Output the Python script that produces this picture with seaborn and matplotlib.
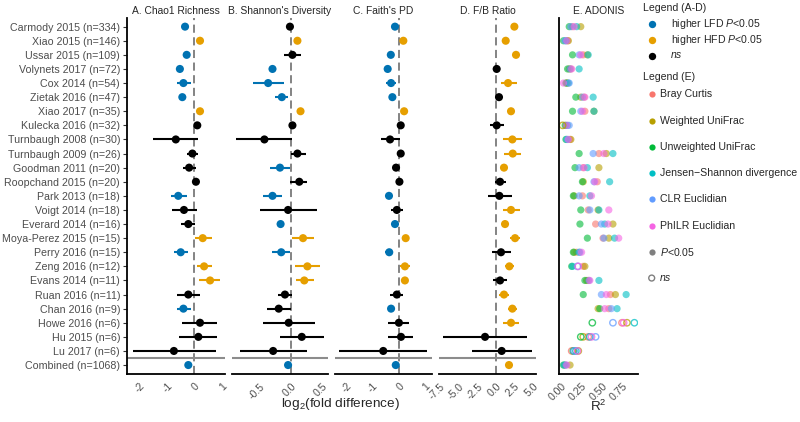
import numpy as np
import pandas as pd
import matplotlib
matplotlib.use("Agg")
import matplotlib.pyplot as plt
import seaborn as sns

studies = ["Carmody 2015 (n=334)", "Xiao 2015 (n=146)", "Ussar 2015 (n=109)", "Volynets 2017 (n=72)",
           "Cox 2014 (n=54)", "Zietak 2016 (n=47)", "Xiao 2017 (n=35)", "Kulecka 2016 (n=32)",
           "Turnbaugh 2008 (n=30)", "Turnbaugh 2009 (n=26)", "Goodman 2011 (n=20)", "Roopchand 2015 (n=20)",
           "Park 2013 (n=18)", "Voigt 2014 (n=18)", "Everard 2014 (n=16)", "Moya-Perez 2015 (n=15)",
           "Perry 2016 (n=15)", "Zeng 2016 (n=12)", "Evans 2014 (n=11)", "Ruan 2016 (n=11)",
           "Chan 2016 (n=9)", "Howe 2016 (n=6)", "Hu 2015 (n=6)", "Lu 2017 (n=6)", "Combined (n=1068)"]

# A. Chao1 richness
chao = [-0.34, 0.21, -0.28, -0.53, -0.40, -0.44, 0.21, 0.11, -0.68, -0.07, -0.19, 0.06, -0.59,
        -0.38, -0.22, 0.31, -0.50, 0.36, 0.58, -0.22, -0.40, 0.21, 0.15, -0.75, -0.22]
chao_lo = [-0.40, 0.17, -0.34, -0.60, -0.65, -0.50, 0.17, -0.01, -1.51, -0.28, -0.43, -0.06, -0.87,
           -0.83, -0.49, 0.03, -0.75, 0.11, 0.18, -0.65, -0.65, -0.45, -0.56, -2.26, -0.26]
chao_hi = [-0.28, 0.25, -0.22, -0.46, -0.13, -0.38, 0.25, 0.26, 0.14, 0.14, 0.06, 0.19, -0.28,
           0.09, 0.03, 0.64, -0.24, 0.64, 0.94, 0.21, -0.13, 0.85, 0.85, 0.80, -0.18]
chao_sig = ["L", "H", "L", "L", "L", "L", "H", "n", "n", "n", "n", "n", "L",
            "n", "n", "H", "L", "H", "H", "n", "L", "n", "n", "n", "L"]

# B. Shannon
shan = [-0.02, 0.10, 0.02, -0.30, -0.37, -0.15, 0.15, 0.02, -0.43, 0.10, -0.18, 0.13, -0.30,
        -0.05, -0.17, 0.19, -0.16, 0.26, 0.21, -0.10, -0.20, -0.04, 0.17, -0.29, -0.05]
shan_lo = [-0.07, 0.08, -0.11, -0.36, -0.62, -0.26, 0.13, -0.04, -0.89, -0.01, -0.34, -0.02, -0.46,
           -0.50, -0.19, 0.02, -0.30, 0.06, 0.07, -0.21, -0.39, -0.45, -0.18, -0.82, -0.07]
shan_hi = [0.03, 0.12, 0.15, -0.25, -0.11, -0.05, 0.17, 0.08, 0.02, 0.23, -0.02, 0.26, -0.14,
           0.41, -0.15, 0.37, -0.02, 0.47, 0.37, 0.02, 0.00, 0.38, 0.53, 0.25, -0.03]
shan_sig = ["n", "H", "n", "L", "L", "L", "H", "n", "n", "n", "L", "n", "L",
            "n", "L", "H", "L", "H", "H", "n", "n", "n", "n", "n", "L"]

# C. Faith's PD
faith = [-0.15, 0.17, -0.31, -0.43, -0.30, -0.25, 0.20, 0.07, -0.34, 0.07, -0.11, 0.02, -0.38,
         -0.08, -0.15, 0.26, -0.37, 0.23, 0.23, -0.08, -0.30, 0.00, 0.08, -0.60, -0.12]
faith_lo = [-0.19, 0.13, -0.35, -0.47, -0.49, -0.29, 0.16, 0.01, -0.69, 0.01, -0.17, -0.03, -0.49,
            -0.30, -0.19, 0.20, -0.53, 0.04, 0.19, -0.34, -0.34, -0.41, -0.43, -2.28, -0.15]
faith_hi = [-0.11, 0.21, -0.27, -0.39, -0.11, -0.21, 0.24, 0.13, 0.04, 0.13, -0.05, 0.07, -0.27,
            0.15, -0.11, 0.32, -0.21, 0.43, 0.27, 0.17, -0.26, 0.40, 0.55, 1.09, -0.09]
faith_sig = ["L", "H", "L", "L", "L", "L", "H", "n", "n", "n", "n", "n", "L",
             "n", "L", "H", "L", "H", "H", "n", "L", "n", "n", "n", "L"]

# D. F/B ratio
fb = [2.46, 1.30, 2.68, 0.09, 1.61, 0.40, 2.01, 0.09, 2.19, 2.24, 1.07, 0.54, 0.45,
      2.01, 1.21, 2.55, 0.67, 1.79, 0.54, 1.07, 2.19, 2.01, -1.47, 0.76, 1.74]
fb_lo = [2.20, 1.05, 2.30, -0.20, 0.63, 0.10, 1.60, -0.80, 0.98, 1.12, 0.80, -0.13, -1.11,
         0.89, 0.95, 1.88, -0.58, 1.21, -0.36, 0.45, 1.66, 0.98, -7.06, -3.18, 1.50]
fb_hi = [2.72, 1.55, 3.10, 0.38, 2.77, 0.70, 2.42, 1.07, 3.44, 3.35, 1.34, 1.34, 2.10,
         3.22, 1.47, 3.22, 2.01, 2.46, 1.43, 1.79, 2.77, 3.08, 4.11, 4.78, 1.98]
fb_sig = ["H", "H", "H", "n", "H", "n", "H", "n", "H", "H", "H", "n", "n",
          "H", "H", "H", "n", "H", "n", "H", "H", "H", "n", "n", "H"]

# E. ADONIS R2
metrics = ["Bray Curtis", "Weighted UniFrac", "Unweighted UniFrac",
           "Jensen\u2212Shannon divergence", "CLR Euclidian", "PhILR Euclidian"]
r2_bray = [0.14, 0.08, 0.27, 0.12, 0.08, 0.28, 0.29, 0.06, 0.11, 0.46, 0.27, 0.44, 0.26,
           0.33, 0.42, 0.51, 0.19, 0.27, 0.33, 0.60, 0.58, 0.74, 0.33, 0.13, 0.05]
r2_wuf = [0.24, 0.09, 0.32, 0.10, 0.07, 0.24, 0.40, 0.02, 0.12, 0.55, 0.46, 0.27, 0.16,
          0.45, 0.63, 0.58, 0.16, 0.29, 0.31, 0.66, 0.45, 0.80, 0.27, 0.21, 0.11]
r2_uuf = [0.10, 0.03, 0.14, 0.08, 0.06, 0.18, 0.14, 0.05, 0.06, 0.22, 0.17, 0.26, 0.15,
          0.24, 0.23, 0.32, 0.15, 0.13, 0.29, 0.27, 0.47, 0.38, 0.24, 0.15, 0.03]
r2_jsd = [0.19, 0.06, 0.33, 0.22, 0.09, 0.39, 0.40, 0.08, 0.07, 0.63, 0.32, 0.59, 0.35,
          0.46, 0.53, 0.65, 0.22, 0.14, 0.46, 0.79, 0.68, 0.89, 0.35, 0.18, 0.04]
r2_clr = [0.12, 0.05, 0.22, 0.11, 0.10, 0.26, 0.24, 0.10, 0.08, 0.39, 0.22, 0.40, 0.22,
          0.35, 0.49, 0.52, 0.23, 0.20, 0.34, 0.49, 0.61, 0.63, 0.42, 0.16, 0.06]
r2_philr = [0.16, 0.07, 0.24, 0.13, 0.03, 0.29, 0.26, 0.07, 0.09, 0.52, 0.28, 0.41, 0.37,
            0.58, 0.57, 0.70, 0.25, 0.21, 0.35, 0.55, 0.53, 0.76, 0.37, 0.20, 0.07]
ns_studies = ["Howe 2016 (n=6)", "Hu 2015 (n=6)", "Lu 2017 (n=6)"]
ns_extra = [("Kulecka 2016 (n=32)", "Weighted UniFrac"),
            ("Zeng 2016 (n=12)", "CLR Euclidian"),
            ("Zeng 2016 (n=12)", "PhILR Euclidian")]

sig_pal = {"L": "#0072B2", "H": "#E69F00", "n": "#000000"}
met_pal = dict(zip(metrics, ["#F8766D", "#B79F00", "#00BA38", "#00BFC4", "#619CFF", "#F564E3"]))

sns.set_style("white")
plt.rcParams["font.family"] = ["Liberation Sans", "DejaVu Sans"]
plt.rcParams["mathtext.fontset"] = "custom"
plt.rcParams["mathtext.rm"] = "Liberation Sans"
plt.rcParams["mathtext.it"] = "Liberation Sans:italic"

fig = plt.figure(figsize=(8, 4.22), dpi=100)
ypos = np.arange(len(studies))
bot, hgt = 0.1149, 0.842
tcol = "#4D4D4D"

panels = [
    ("A. Chao1 Richness", chao, chao_lo, chao_hi, chao_sig, [0.15875, 0.1225], (-2.474, 1.129),
     [-2, -1, 0, 1], ["-2", "-1", "0", "1"]),
    ("B. Shannon's Diversity", shan, shan_lo, shan_hi, shan_sig, [0.29, 0.12], (-0.95, 0.591),
     [-0.5, 0, 0.5], ["-0.5", "0.0", "0.5"]),
    ("C. Faith's PD", faith, faith_lo, faith_hi, faith_sig, [0.41875, 0.12125], (-2.448, 1.268),
     [-2, -1, 0, 1], ["-2", "-1", "0", "1"]),
    ("D. F/B Ratio", fb, fb_lo, fb_hi, fb_sig, [0.54875, 0.12125], (-7.64, 5.36),
     [-7.5, -5, -2.5, 0, 2.5, 5], ["-7.5", "-5.0", "-2.5", "0.0", "2.5", "5.0"]),
]

for i, (title, est, lo, hi, sig, xw, xl, ticks, tlabs) in enumerate(panels):
    ax = fig.add_axes([xw[0], bot, xw[1], hgt])
    d = pd.DataFrame({"y": ypos, "est": est, "lo": lo, "hi": hi, "sig": sig})
    ax.axvline(0, color="#7a7a7a", lw=1.3, dashes=(4.5, 2.5), zorder=0)
    ax.axhline(len(studies) - 1.5, color="#8c8c8c", lw=1.5, zorder=0)
    ax.hlines(d["y"], d["lo"], d["hi"], colors=[sig_pal[s] for s in d["sig"]], lw=1.5, zorder=2)
    sns.scatterplot(data=d, x="est", y="y", hue="sig", palette=sig_pal, s=34, linewidth=0,
                    legend=False, ax=ax, zorder=3)
    ax.set_xlim(*xl)
    ax.set_ylim(len(studies) - 0.4, -0.6)
    ax.set_xticks(ticks)
    ax.set_xticklabels(tlabs, rotation=45, ha="right", rotation_mode="anchor")
    ax.set_xlabel("")
    ax.set_ylabel("")
    ax.set_title(title, fontsize=7.4, pad=3)
    ax.tick_params(axis="x", length=3, width=0.8, colors="#333333", labelcolor=tcol, labelsize=7.6, pad=2.5)
    for s in ["top", "right"]:
        ax.spines[s].set_visible(False)
    ax.spines["bottom"].set_linewidth(1.3)
    ax.spines["bottom"].set_color("black")
    if i == 0:
        ax.set_yticks(ypos)
        ax.set_yticklabels(studies)
        ax.tick_params(axis="y", length=3, width=0.8, colors="#333333", labelcolor=tcol,
                       labelsize=7.7, pad=2, left=True)
        ax.spines["left"].set_linewidth(1.3)
        ax.spines["left"].set_color("black")
    else:
        ax.set_yticks([])
        ax.spines["left"].set_visible(False)

# panel E
rows = []
for m, vals in zip(metrics, [r2_bray, r2_wuf, r2_uuf, r2_jsd, r2_clr, r2_philr]):
    for st, y, v in zip(studies, ypos, vals):
        ns = st in ns_studies or (st, m) in ns_extra
        rows.append({"study": st, "y": y, "R2": v, "metric": m, "ns": ns})
adonis = pd.DataFrame(rows)

axE = fig.add_axes([0.69875, bot, 0.09875, hgt])
filled = adonis[~adonis["ns"]]
sns.scatterplot(data=filled, x="R2", y="y", hue="metric", palette=met_pal, s=27, linewidth=0,
                alpha=0.6, legend=False, ax=axE)
opened = adonis[adonis["ns"]]
axE.scatter(opened["R2"], opened["y"], s=21, facecolors="none",
            edgecolors=[met_pal[m] for m in opened["metric"]], linewidths=1.0, alpha=0.75)
axE.set_xlim(-0.024, 0.934)
axE.set_ylim(len(studies) - 0.4, -0.6)
axE.set_xticks([0, 0.25, 0.5, 0.75])
axE.set_xticklabels(["0.00", "0.25", "0.50", "0.75"], rotation=45, ha="right", rotation_mode="anchor")
axE.set_yticks([])
axE.set_xlabel("")
axE.set_ylabel("")
axE.set_title("E. ADONIS", fontsize=7.4, pad=3)
axE.tick_params(axis="x", length=3, width=0.8, colors="#333333", labelcolor=tcol, labelsize=7.6, pad=2.5)
for s in ["top", "right"]:
    axE.spines[s].set_visible(False)
for s in ["left", "bottom"]:
    axE.spines[s].set_linewidth(1.3)
    axE.spines[s].set_color("black")

fig.text(0.425, 0.043, r"log$_2$(fold difference)", ha="center", va="center", fontsize=9.7)
fig.text(0.748, 0.036, r"R$^2$", ha="center", va="center", fontsize=9.7)

# legends
lax = fig.add_axes([0, 0, 1, 1])
lax.set_axis_off()
lax.set_xlim(0, 800)
lax.set_ylim(422, 0)
lax.text(643, 8.3, "Legend (A-D)", fontsize=7.6, va="center")
labs_ad = [r"higher LFD $P$<0.05", r"higher HFD $P$<0.05", "ns"]
for k, (key, lab) in enumerate(zip(["L", "H", "n"], labs_ad)):
    yy = 24.3 + k * 15.6
    lax.scatter([651.7], [yy], s=28, color=sig_pal[key], linewidth=0)
    lax.text(671, yy, lab, fontsize=7.6, va="center", style="italic" if lab == "ns" else "normal")
lax.text(643, 77.3, "Legend (E)", fontsize=7.6, va="center")
for k, m in enumerate(metrics):
    yy = 94.3 + k * 26.25
    lax.scatter([651.7], [yy], s=20, color=met_pal[m], linewidth=0)
    lax.text(660, yy, m, fontsize=7.6, va="center")
yy = 94.3 + 6 * 26.25
lax.scatter([651.7], [yy], s=20, color="#7f7f7f", linewidth=0)
lax.text(660, yy, r"$P$<0.05", fontsize=7.6, va="center")
yy = 94.3 + 7 * 26.25
lax.scatter([651.7], [yy], s=18, facecolors="none", edgecolors="#7f7f7f", linewidths=1.0)
lax.text(660, yy, "ns", fontsize=7.6, va="center", style="italic")

fig.savefig("out.png", dpi=100)
